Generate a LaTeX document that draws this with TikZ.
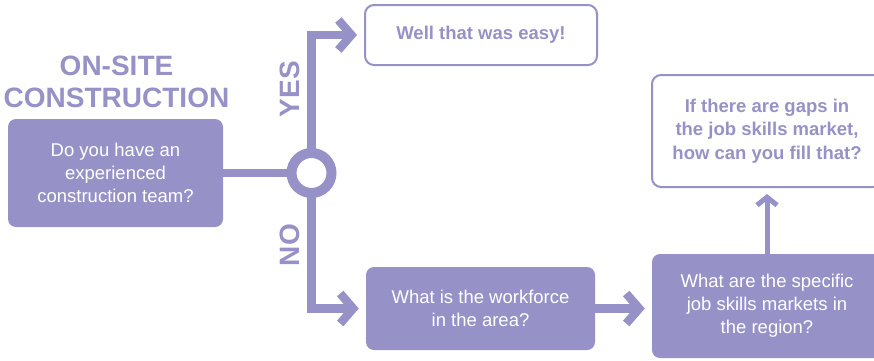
\documentclass[tikz,border=0pt]{standalone}
\usepackage{fontspec}
\setmainfont{Liberation Sans}
\usetikzlibrary{arrows.meta}
\definecolor{lilac}{HTML}{9692C7}

\begin{document}
\begin{tikzpicture}[x=1pt, y=-1pt]
            \tikzstyle{filledbox} = [fill=lilac, rounded corners=8pt, text=white, align=center,
                font=\fontsize{18.5}{23}\selectfont, inner sep=0pt]
            \tikzstyle{openbox} = [draw=lilac, line width=2pt, fill=white, rounded corners=9pt, text=lilac,
                align=center, font=\bfseries\fontsize{18.5}{23.5}\selectfont, inner sep=0pt]
            \tikzstyle{flow} = [draw=lilac, line width=8.5pt, -{Straight Barb[length=13pt, width=30pt]}, shorten >=7pt]
            \tikzstyle{tag} = [text=lilac, font=\bfseries\fontsize{28}{30}\selectfont, rotate=90]
            \useasboundingbox (0, 0) rectangle (874, 360);
            \clip (0, 0) rectangle (874, 360);
            \node[text=lilac, align=center, font=\bfseries\fontsize{28}{32}\selectfont] (title) at (116.5, 82) {ON-SITE\\CONSTRUCTION};
            \node[filledbox, minimum width=215pt, minimum height=108pt] (team) at (115.5, 173) {Do you have an\\experienced\\construction team?};
            \node[openbox, minimum width=232pt, minimum height=60pt] (easy) at (481, 35) {Well that was easy!};
            \node[filledbox, minimum width=229pt, minimum height=83pt] (workforce) at (480.5, 308.5) {What is the workforce\\in the area?};
            \node[filledbox, minimum width=230pt, minimum height=104pt] (skills) at (767, 306) {What are the specific\\job skills markets in\\the region?};
            \node[openbox, minimum width=230pt, minimum height=112pt] (gaps) at (767, 131) {If there are gaps in\\the job skills market,\\how can you fill that?};
            \coordinate (hubc) at (311.5, 173);
            \draw[draw=lilac, line width=8.5pt] (team.east) -- (hubc);
            \draw[flow] (hubc) |- (easy.west);
            \draw[flow] (hubc) |- (workforce.west);
            \node[circle, draw=lilac, line width=10pt, fill=white, minimum size=40pt, inner sep=0pt] (hub) at (hubc) {};
            \draw[flow] (workforce.east) -- (workforce.east -| skills.west);
            \draw[draw=lilac, line width=5pt, -{Straight Barb[length=8pt, width=20pt]}, shorten >=6pt] (skills.north) -- (gaps.south);
            \node[tag] (yes) at (290, 89) {YES};
            \node[tag] (no) at (290, 245) {NO};
        \end{tikzpicture}
\end{document}
